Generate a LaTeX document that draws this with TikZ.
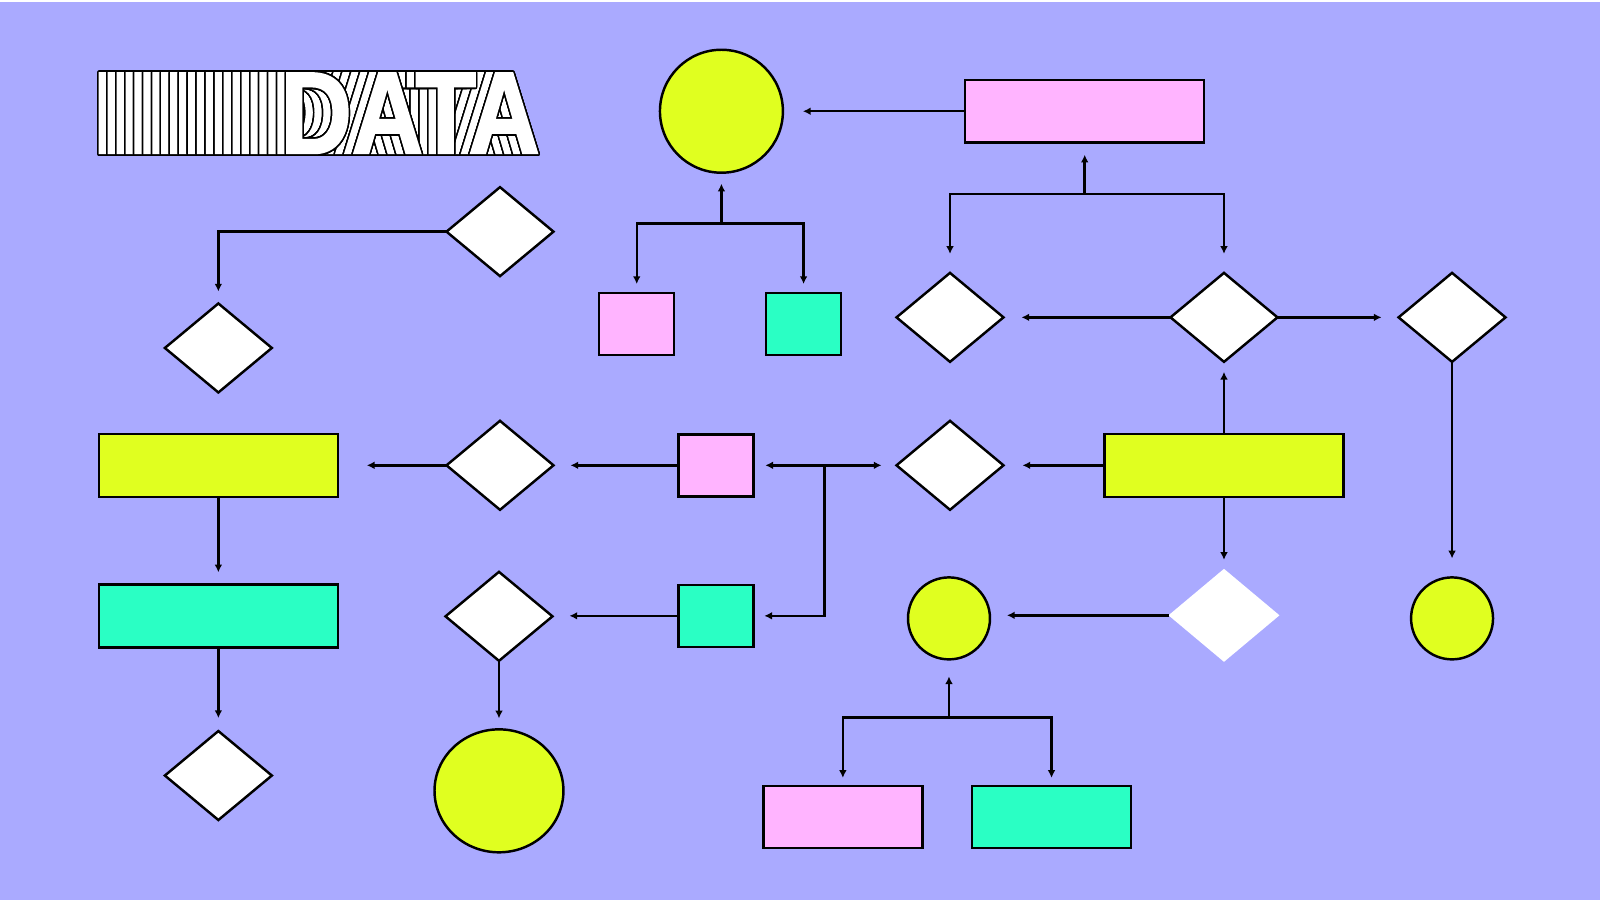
\documentclass[tikz,border=0pt]{standalone}
\usepackage{fontspec}
\usepackage{graphicx}
\usepackage{contour}
\usetikzlibrary{arrows.meta,shapes.geometric}

\newfontfamily\datafont[FakeBold=2]{Liberation Sans}
\contourlength{0.5pt}
\contournumber{24}

\definecolor{bgpurple}{RGB}{170,170,255}
\definecolor{boxpink}{RGB}{255,180,255}
\definecolor{boxlime}{RGB}{224,255,32}
\definecolor{boxteal}{RGB}{42,255,196}

\tikzset{
  every node/.style={inner sep=0pt, outer sep=0pt},
  widebox/.style={rectangle, draw=black, line width=0.7pt, minimum width=2.39cm, minimum height=0.63cm},
  smallbox/.style={rectangle, draw=black, line width=0.7pt, minimum width=0.75cm, minimum height=0.62cm},
  flatbox/.style={rectangle, draw=black, line width=0.7pt, minimum width=1.59cm, minimum height=0.62cm},
  choice/.style={diamond, draw=black, fill=white, line width=0.7pt, minimum width=1.07cm, minimum height=0.89cm},
  blob/.style={circle, draw=black, fill=boxlime, line width=0.7pt, minimum size=#1},
  flow/.style={-{Latex[length=2.2pt,width=2.2pt]}, line width=0.7pt},
  titletext/.style={text=white, font=\datafont\bfseries\fontsize{33}{33}\selectfont}
}

\begin{document}
\begin{tikzpicture}[x=0.010204cm, y=-0.010204cm]
  % Background
  \fill[white] (0,0) rectangle (1568,882);
  \fill[bgpurple] (0,2) rectangle (1568,882);
  \useasboundingbox (0,0) rectangle (1568,882);

  % Title: stacked copies of the word
  \foreach \k in {21,...,0}
    \node[titletext, anchor=base west] (data\k) at ({275-8.75*\k},150) {\scalebox{0.85}[1]{\contour{black}{DATA}}};

  % Top row
  \node[blob=1.23cm] (cTop) at (707,109) {};
  \node[widebox, fill=boxpink] (rTop) at (1063,109) {};
  \node[smallbox, fill=boxpink] (rPinkA) at (624,317.5) {};
  \node[smallbox, fill=boxteal] (rTealA) at (787.5,317.5) {};

  \node[choice] (dTL) at (490,227) {};
  \node[choice] (dL1) at (214,341) {};
  \node[choice] (dA1) at (931,311) {};
  \node[choice] (dA2) at (1199.5,311) {};
  \node[choice] (dA3) at (1423,311) {};

  % Middle row
  \node[widebox, fill=boxlime] (rYelL) at (214,456) {};
  \node[choice] (dM) at (490,456) {};
  \node[smallbox, fill=boxpink] (rPinkM) at (701.5,456) {};
  \node[choice] (dMR) at (931,456) {};
  \node[widebox, fill=boxlime] (rYelR) at (1199.5,456) {};

  % Lower row
  \node[widebox, fill=boxteal] (rTealL) at (214,603.5) {};
  \node[choice] (dM2) at (489,604) {};
  \node[smallbox, fill=boxteal] (rTealM) at (701.5,603.5) {};
  \node[blob=0.82cm] (cMid) at (930,606) {};
  \node[diamond, fill=white, minimum width=1.11cm, minimum height=0.93cm] (dWhite) at (1199.5,603) {};
  \node[blob=0.82cm] (cRight) at (1423,606) {};

  % Bottom row
  \node[choice] (dBL) at (214,760) {};
  \node[ellipse, draw=black, fill=boxlime, line width=0.7pt, minimum width=1.29cm, minimum height=1.23cm] (cBig) at (489,775) {};
  \node[flatbox, fill=boxpink] (rPinkB) at (826,800.5) {};
  \node[flatbox, fill=boxteal] (rTealB) at (1030.5,800.5) {};

  % Connectors, top part
  \draw[flow, shorten >=2mm] (rTop.west) -- (cTop);
  \coordinate (jTop) at (1063,190);
  \draw[flow, shorten >=1.2mm] (jTop) -- (rTop.south);
  \draw[flow, shorten >=1.9mm] (jTop) -| (dA1.north);
  \draw[flow, shorten >=1.9mm] (jTop) -| (dA2.north);
  \coordinate (jCir) at (707,219);
  \draw[flow, shorten >=1.1mm] (jCir) -- (cTop.south);
  \draw[flow, shorten >=0.9mm] (jCir) -| (rPinkA.north);
  \draw[flow, shorten >=0.9mm] (jCir) -| (rTealA.north);
  \draw[flow, shorten >=1.8mm] (dA2.west) -- (dA1.east);
  \draw[flow, shorten >=1.7mm] (dA2.east) -- (dA3.west);
  \draw[flow, shorten >=1.9mm] (dA3.south) -- (cRight.north);
  \draw[flow, shorten >=1.2mm] (dTL.west) -| (dL1.north);

  % Connectors, middle part
  \draw[flow, shorten >=2.9mm] (dM.west) -- (rYelL.east);
  \draw[flow, shorten >=1.7mm] (rPinkM.west) -- (dM.east);
  \draw[flow, shorten >=1.9mm] (rYelR.west) -- (dMR.east);
  \draw[flow, shorten >=1mm] (rYelR.north) -- (dA2.south);
  \coordinate (jMid) at (808,456);
  \draw[flow, shorten >=1.2mm] (jMid) -- (rPinkM.east);
  \draw[flow, shorten >=1.5mm] (jMid) -- (dMR.west);
  \draw[flow, shorten >=1.1mm] (jMid) |- (rTealM.east);

  % Connectors, lower part
  \draw[flow, shorten >=1.2mm] (rYelL.south) -- (rTealL.north);
  \draw[flow, shorten >=1.7mm] (rTealM.west) -- (rTealM.west -| dM2.east);
  \draw[flow, shorten >=1.7mm] (dWhite.west) -- (dWhite.west -| cMid.east);
  \draw[flow, shorten >=0.9mm] (rYelR.south) -- (dWhite.north);
  \draw[flow, shorten >=1.3mm] (rTealL.south) -- (dBL.north);
  \draw[flow, shorten >=1.1mm] (dM2.south) -- (cBig.north);
  \coordinate (jBot) at (930,703);
  \draw[flow, shorten >=1.7mm] (jBot) -- (cMid.south);
  \draw[flow, shorten >=0.8mm] (jBot) -| (rPinkB.north);
  \draw[flow, shorten >=0.8mm] (jBot) -| (rTealB.north);
\end{tikzpicture}
\end{document}
